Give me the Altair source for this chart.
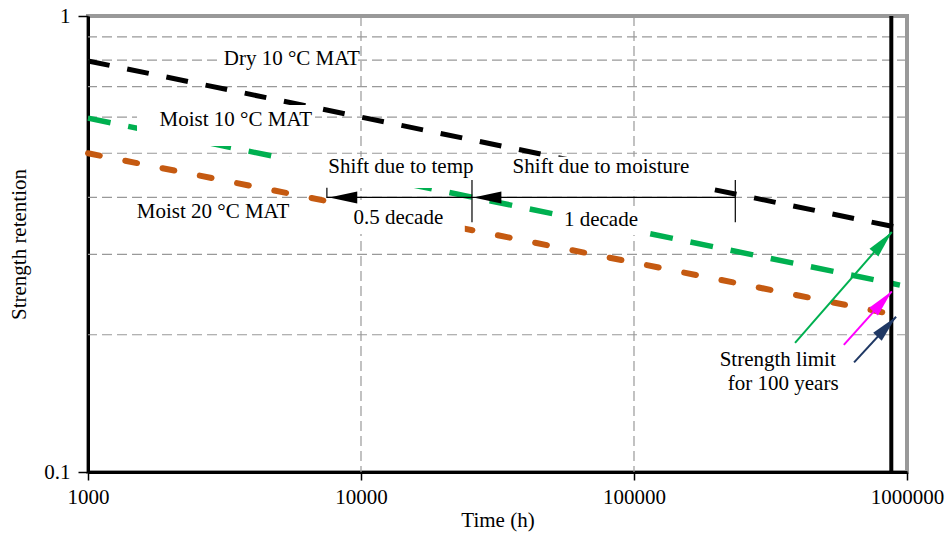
import altair as alt
import pandas as pd

FONT = "Liberation Serif"
FS = 21

# ---------------- data ----------------
time_dry = [1000, 942000]
ret_dry = [0.797, 0.343]
time_m10 = [1000, 942000]
ret_m10 = [0.597, 0.257]
time_m20 = [1000, 876000]
ret_m20 = [0.500, 0.222]

y_grid = [0.2, 0.3, 0.4, 0.5, 0.6, 0.7, 0.8, 0.9]
x_grid = [10000, 100000]
x_ticks = [1000, 10000, 100000, 1000000]
y_ticks = [0.1, 1]
limit_time = [876000]  # 100 years

# shift arrows
shift_r = [0.4]
shift_t0 = [7500]
shift_t1 = [235000]
tick_t = [7500, 25500, 235000]
tick_lo = [0.399, 0.353, 0.353]
tick_hi = [0.420, 0.437, 0.437]
head_t = [7650, 25800]
head_r = [0.4, 0.4]

# strength limit arrows
arrow_color = ["#00b050", "#ff00ff", "#1f3864"]
arrow_t0 = [389000, 587000, 640000]
arrow_r0 = [0.192, 0.190, 0.174]
arrow_t1 = [880000, 880000, 912000]
arrow_r1 = [0.336, 0.249, 0.219]
arrow_angle = [41, 42, 43]

# labels
label_text = ["Dry 10 °C MAT", "Moist 10 °C MAT", "Moist 20 °C MAT",
              "Shift due to temp", "Shift due to moisture", "0.5 decade",
              "1 decade", "Strength limit", "for 100 years"]
label_t = [5580, 3480, 2870, 14000, 75700, 13700, 75700, 336000, 352000]
label_r = [0.805, 0.591, 0.372, 0.466, 0.466, 0.361, 0.357, 0.176, 0.156]

# white label backgrounds
box_t0 = [2995, 1512, 5178, 33650, 8035, 51360]
box_t1 = [9750, 6784, 24000, 176000, 24000, 114500]
box_r0 = [0.761, 0.519, 0.4196, 0.414, 0.3326, 0.331]
box_r1 = [0.851, 0.638, 0.491, 0.491, 0.395, 0.381]

# ---------------- scales / axes ----------------
xs = alt.Scale(type="log", domain=[1000, 1000000])
ys = alt.Scale(type="log", domain=[0.1, 1])

x_axis = alt.Axis(values=x_ticks, format="d", grid=False, title="Time (h)",
                  domainColor="black", domainWidth=3, tickColor="black",
                  tickSize=8, tickWidth=1.5, labelFont=FONT, labelFontSize=FS,
                  labelColor="black", labelPadding=6, titleFont=FONT,
                  titleFontSize=FS, titleFontWeight="normal", titleColor="black",
                  titlePadding=2, labelOverlap=False, labelFlush=False)
y_axis = alt.Axis(values=y_ticks, format=".1~f", grid=False,
                  title="Strength retention", domainColor="black", domainWidth=3,
                  tickColor="black", tickSize=10, tickWidth=1.5, labelFont=FONT,
                  labelFontSize=FS, labelColor="black", labelPadding=8,
                  titleFont=FONT, titleFontSize=FS, titleFontWeight="normal",
                  titleColor="black", titlePadding=14, labelOverlap=False)


def X(f):
    return alt.X(f, scale=xs, axis=x_axis)


def Y(f):
    return alt.Y(f, scale=ys, axis=y_axis)


GRID = "#999999"

ygrid = alt.Chart(pd.DataFrame({"r": y_grid})).mark_rule(
    color=GRID, strokeWidth=1.2, strokeDash=[10, 5]).encode(y=Y("r:Q"))
xgrid = alt.Chart(pd.DataFrame({"t": x_grid})).mark_rule(
    color=GRID, strokeWidth=1.2, strokeDash=[10, 5]).encode(x=X("t:Q"))

dry = alt.Chart(pd.DataFrame({"t": time_dry, "r": ret_dry})).mark_line(
    color="black", strokeWidth=5, strokeDash=[22, 18]).encode(x=X("t:Q"), y=Y("r:Q"))
m10 = alt.Chart(pd.DataFrame({"t": time_m10, "r": ret_m10})).mark_line(
    color="#00b050", strokeWidth=5.5, strokeDash=[23, 18]).encode(x=X("t:Q"), y=Y("r:Q"))
m20 = alt.Chart(pd.DataFrame({"t": time_m20, "r": ret_m20})).mark_line(
    color="#c55a11", strokeWidth=6, strokeDash=[12, 26], strokeCap="round").encode(
    x=X("t:Q"), y=Y("r:Q"))

boxes = alt.Chart(pd.DataFrame({"t0": box_t0, "t1": box_t1, "r0": box_r0, "r1": box_r1})).mark_rect(
    color="white", opacity=1).encode(x=X("t0:Q"), x2="t1:Q", y=Y("r0:Q"), y2="r1:Q")

limit = alt.Chart(pd.DataFrame({"t": limit_time})).mark_rule(
    color="black", strokeWidth=4).encode(x=X("t:Q"))

shift = alt.Chart(pd.DataFrame({"t0": shift_t0, "t1": shift_t1, "r": shift_r})).mark_rule(
    color="black", strokeWidth=1.2).encode(x=X("t0:Q"), x2="t1:Q", y=Y("r:Q"))
ticks = alt.Chart(pd.DataFrame({"t": tick_t, "lo": tick_lo, "hi": tick_hi})).mark_rule(
    color="black", strokeWidth=1.2).encode(x=X("t:Q"), y=Y("lo:Q"), y2="hi:Q")

HEAD = "M0,0L-0.6,2.8L0.6,2.8Z"
heads = alt.Chart(pd.DataFrame({"t": head_t, "r": head_r})).mark_point(
    shape=HEAD, size=400, filled=True, color="black", opacity=1, angle=270).encode(
    x=X("t:Q"), y=Y("r:Q"))

adf = pd.DataFrame({"c": arrow_color, "t0": arrow_t0, "r0": arrow_r0,
                    "t1": arrow_t1, "r1": arrow_r1, "a": arrow_angle})
alines = alt.Chart(adf).mark_rule(strokeWidth=2).encode(
    x=X("t0:Q"), x2="t1:Q", y=Y("r0:Q"), y2="r1:Q",
    color=alt.Color("c:N", scale=None))
aheads = alt.Chart(adf).mark_point(shape=HEAD, size=380, filled=True, opacity=1).encode(
    x=X("t1:Q"), y=Y("r1:Q"),
    color=alt.Color("c:N", scale=None), angle=alt.Angle("a:Q", scale=None))

labels = alt.Chart(pd.DataFrame({"txt": label_text, "t": label_t, "r": label_r})).mark_text(
    font=FONT, fontSize=FS, color="black", align="center", baseline="middle").encode(
    x=X("t:Q"), y=Y("r:Q"), text="txt:N")

chart = alt.layer(ygrid, xgrid, dry, m10, m20, boxes, limit, shift, ticks, heads,
                  alines, aheads, labels).properties(
    width=819, height=456,
    autosize=alt.AutoSizeParams(type="none"),
    padding={"left": 88, "top": 16, "right": 41, "bottom": 63},
    background="white",
).configure_view(stroke="#999999", strokeWidth=4)

chart.save("out.html", embed_options={"renderer": "svg", "actions": False})
